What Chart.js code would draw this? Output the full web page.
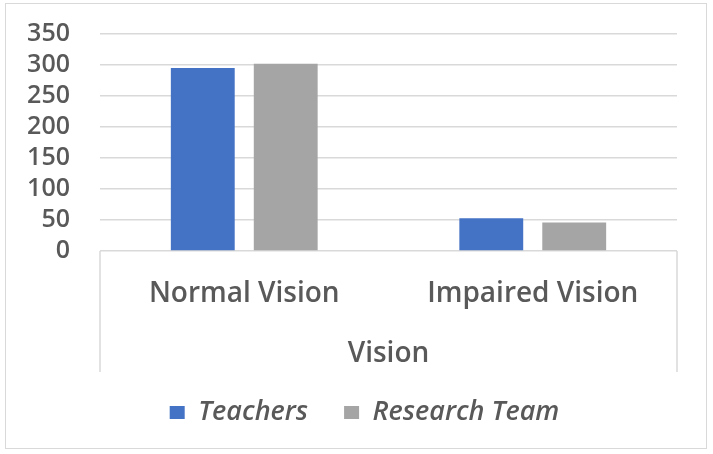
<!DOCTYPE html>
<html>
<head>
<meta charset="utf-8">
<script src="https://cdn.jsdelivr.net/npm/chart.js@4.4.1/dist/chart.umd.min.js"></script>
<style>
  html, body { margin: 0; padding: 0; background: #fff; }
  #wrap { position: relative; width: 713px; height: 454px; }
  #frame { position: absolute; left: 5px; top: 3px; width: 700px; height: 444px;
           border: 1px solid #d9d9d9; pointer-events: none; }
  canvas { position: absolute; left: 0; top: 0; }
</style>
</head>
<body>
<div id="wrap">
  <canvas id="chart" width="713" height="454"></canvas>
  <div id="frame"></div>
</div>
<script>
const categories = ["Normal Vision", "Impaired Vision"];
const teachers = [295, 53];
const researchTeam = [302, 46];
const yTicks = [0, 50, 100, 150, 200, 250, 300, 350];

const textColor = "#595959";
const fontFamily = "'Open Sans', sans-serif";

// Excel-style box under the category axis (left/right rules down to the axis title)
const categoryBox = {
  id: "categoryBox",
  afterLayout(chart) {
    // legend sits a little right of centre in the original
    chart.legend.left += 21;
    chart.legend.right += 21;
  },
  afterDraw(chart) {
    const { ctx, chartArea } = chart;
    const bottom = chartArea.bottom + 121;
    ctx.save();
    ctx.strokeStyle = "#d9d9d9";
    ctx.lineWidth = 1.5;
    ctx.beginPath();
    ctx.moveTo(chartArea.left, chartArea.bottom);
    ctx.lineTo(chartArea.left, bottom);
    ctx.moveTo(chartArea.right, chartArea.bottom);
    ctx.lineTo(chartArea.right, bottom);
    ctx.stroke();
    ctx.restore();
  },
};

new Chart(document.getElementById("chart"), {
  type: "bar",
  data: {
    labels: categories,
    datasets: [
      { label: "Teachers", data: teachers, backgroundColor: "#4472c4", borderWidth: 0 },
      { label: "Research Team", data: researchTeam, backgroundColor: "#a5a5a5", borderWidth: 0 },
    ],
  },
  options: {
    responsive: false,
    animation: false,
    layout: { padding: { left: 10, right: 36, top: 34, bottom: 18 } },
    datasets: { bar: { categoryPercentage: 0.575, barPercentage: 0.77 } },
    scales: {
      x: {
        afterFit: (scale) => {
          scale.height = 112;
        },
        grid: { display: false, drawTicks: false },
        border: { display: false },
        ticks: {
          color: textColor,
          padding: 26,
          font: { family: fontFamily, size: 28, weight: "600" },
        },
        title: {
          display: true,
          text: "Vision",
          color: textColor,
          padding: { top: 0, bottom: -8 },
          font: { family: fontFamily, size: 28, weight: "600" },
        },
      },
      y: {
        min: 0,
        max: 350,
        afterBuildTicks: (scale) => {
          scale.ticks = yTicks.map((v) => ({ value: v }));
        },
        afterFit: (scale) => {
          // tick padding would otherwise push the plot top down
          scale.width = 90;
          scale.paddingTop = 0;
          scale.paddingBottom = 0;
        },
        grid: { color: "#d9d9d9", lineWidth: 1.5, drawTicks: false },
        border: { display: false },
        ticks: {
          color: textColor,
          padding: 30,
          autoSkip: false,
          font: { family: fontFamily, size: 25, weight: "600" },
        },
      },
    },
    plugins: {
      tooltip: { enabled: false },
      legend: {
        position: "bottom",
        labels: {
          color: textColor,
          boxWidth: 15,
          boxHeight: 13,
          padding: 36,
          font: { family: fontFamily, size: 27, style: "italic", weight: "600" },
        },
      },
    },
  },
  plugins: [categoryBox],
});
</script>
</body>
</html>
